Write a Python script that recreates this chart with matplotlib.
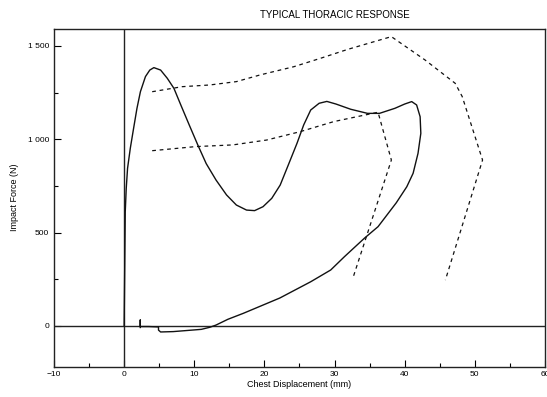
import matplotlib.pyplot as plt
from matplotlib.ticker import MultipleLocator, FuncFormatter

resp_x = [0.0, 0.08, 0.16, 0.3, 0.49, 0.88, 1.35, 1.83, 2.32, 3.04, 3.66, 4.24,
          5.2, 6.15, 7.1, 8.08, 9.28, 10.5, 11.7, 13.1, 14.6, 16.0, 17.45,
          18.6, 19.8, 21.05, 22.25, 23.4, 24.65, 25.6, 26.6, 27.8, 28.9,
          30.2, 32.3, 34.7, 36.4, 38.6, 40.0, 41.0, 41.7, 42.2, 42.3, 41.9,
          41.2, 40.3, 38.8, 36.2, 34.25, 31.4, 29.45, 26.6, 22.2, 17.0, 14.8,
          13.1, 12.2, 11.0, 7.0, 5.2, 4.9, 4.9, 3.5, 2.3, 2.3, 2.3]
resp_y = [0, 300, 612, 737, 845, 952, 1059, 1166, 1255, 1336, 1371, 1384,
          1371, 1327, 1273, 1184, 1077, 970, 870, 782, 702, 648, 621,
          618, 639, 684, 755, 862, 979, 1077, 1157, 1193, 1203,
          1189, 1161, 1139, 1139, 1166, 1189, 1202, 1184, 1121, 1032, 925,
          818, 746, 660, 532, 470, 371, 300, 237, 150, 68, 36,
          5, -7, -18, -30, -32, -22, -5, -3, -3, 32, -8]

# corridor boundaries (dashed)
upper_x = [4.0, 8.3, 12.2, 16.0, 19.4, 24.2, 28.0, 31.9, 38.1, 42.9, 47.2, 48.2, 51.1, 45.8]
upper_y = [1255, 1282, 1291, 1309, 1345, 1389, 1434, 1482, 1550, 1425, 1300, 1229, 889, 246]
lower_x = [4.0, 10.2, 15.5, 20.3, 25.1, 29.9, 36.2, 38.1, 32.6]
lower_y = [939, 961, 970, 996, 1041, 1095, 1145, 889, 255]

plt.rcParams['font.family'] = ['Liberation Sans', 'DejaVu Sans']

fig = plt.figure(figsize=(5.47, 3.97), dpi=100)
ax = fig.add_axes([0.0987, 0.0768, 0.8976, 0.8502])

ax.axhline(0, color='#222222', lw=1.0)
ax.axvline(0, color='#222222', lw=1.0)

ax.plot(resp_x, resp_y, color='#111111', lw=1.0)
ax.plot(upper_x, upper_y, color='#111111', lw=0.9, dashes=(3, 3))
ax.plot(lower_x, lower_y, color='#111111', lw=0.9, dashes=(3, 3))

ax.set_xlim(-10, 60)
ax.set_ylim(-217, 1591)
ax.xaxis.set_major_locator(MultipleLocator(10))
ax.xaxis.set_minor_locator(MultipleLocator(5))
ax.yaxis.set_major_locator(MultipleLocator(500))
ax.yaxis.set_minor_locator(MultipleLocator(250))
ax.yaxis.set_major_formatter(FuncFormatter(
    lambda v, p: f'{int(v):,}'.replace(',', ' ')))
ax.tick_params(which='both', direction='in', labelsize=6, width=0.8)
ax.tick_params(which='major', length=5)
ax.tick_params(which='minor', length=3)

for s in ax.spines.values():
    s.set_linewidth(1.0)
    s.set_color('#222222')

ax.set_xlabel('Chest Displacement (mm)', fontsize=6.5, labelpad=1)
ax.set_ylabel('Impact Force (N)', fontsize=6.5, labelpad=6)
fig.text(0.612, 0.963, 'TYPICAL THORACIC RESPONSE', ha='center', va='center', fontsize=7)

plt.savefig('out.png', dpi=100)
